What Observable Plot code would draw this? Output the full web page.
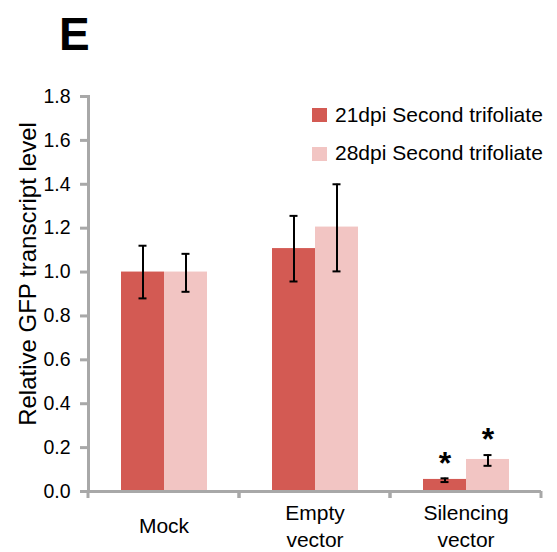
<!DOCTYPE html>
<html>
<head>
<meta charset="utf-8">
<script src="https://cdn.jsdelivr.net/npm/d3@7"></script>
<script src="https://cdn.jsdelivr.net/npm/@observablehq/plot@0.6"></script>
<style>
  html, body { margin: 0; padding: 0; background: #fff; }
  body { font-family: "Liberation Sans", Arial, Helvetica, sans-serif; color: #000; }
  #wrap { position: relative; width: 557px; height: 552px; overflow: hidden; }
  #chart { position: absolute; left: 0; top: 0; }
  #title { position: absolute; left: 59px; top: 11px; font-size: 46px; line-height: 46px; font-weight: bold; }
  .lg-sw { position: absolute; width: 15px; height: 14px; }
  .lg-tx { position: absolute; font-size: 21px; line-height: 21px; white-space: nowrap; }
</style>
</head>
<body>
<div id="wrap">
  <div id="chart"></div>
  <div id="title">E</div>
  <div id="legend"></div>
</div>
<script>
// ---- data ----
const groups = ["Mock", "Empty vector", "Silencing vector"];
const groupLabels = ["Mock", "Empty\nvector", "Silencing\nvector"];
const series = ["21dpi Second trifoliate", "28dpi Second trifoliate"];
const seriesColors = ["#d35a53", "#f2c5c3"];

const value21 = [1.00, 1.107, 0.055];
const low21   = [0.88, 0.957, 0.043];
const high21  = [1.12, 1.256, 0.060];
const star21  = [false, false, true];

const value28 = [1.00, 1.205, 0.146];
const low28   = [0.91, 1.003, 0.117];
const high28  = [1.083, 1.400, 0.166];
const star28  = [false, false, true];

const yTicks = [0, 0.2, 0.4, 0.6, 0.8, 1.0, 1.2, 1.4, 1.6, 1.8];
const yLabel = "Relative GFP transcript level";

// ---- table built from the arrays ----
const rows = [];
groups.forEach((g, i) => {
  rows.push({group: g, series: series[0], value: value21[i], lo: low21[i], hi: high21[i], star: star21[i]});
  rows.push({group: g, series: series[1], value: value28[i], lo: low28[i], hi: high28[i], star: star28[i]});
});
const labelOf = new Map(groups.map((g, i) => [g, groupLabels[i]]));

const gray = "#a8a8a8";
const font = "'Liberation Sans', Arial, Helvetica, sans-serif";

// tick marks at the band boundaries of the x axis
function edgeTicks(index, scales, values, dimensions) {
  const {marginLeft, marginRight, width} = dimensions;
  const y0 = scales.y(0);
  const g = d3.create("svg:g");
  for (const x of [marginLeft, width - marginRight]) {
    g.append("line")
      .attr("x1", x).attr("x2", x)
      .attr("y1", y0).attr("y2", y0 + 7)
      .attr("stroke", gray).attr("stroke-width", 3);
  }
  return g.node();
}

const chart = Plot.plot({
  width: 557,
  height: 552,
  marginTop: 96,
  marginBottom: 61,
  marginLeft: 87,
  marginRight: 15,
  style: {fontFamily: font, fontSize: "19px", color: "#000", background: "#fff", overflow: "visible"},
  fx: {domain: groups, padding: 0, label: null, axis: null},
  x: {domain: series, paddingInner: 0, paddingOuter: 0.72, axis: null},
  y: {domain: [0, 1.8], axis: null},
  color: {domain: series, range: seriesColors},
  marks: [
    Plot.barY(rows, {fx: "group", x: "series", y: "value", fill: "series"}),
    Plot.ruleX(rows, {fx: "group", x: "series", y1: "lo", y2: "hi", stroke: "#000", strokeWidth: 2}),
    Plot.tickY(rows, {fx: "group", x: "series", y: "lo", stroke: "#000", strokeWidth: 2, insetLeft: 17.5, insetRight: 17.5}),
    Plot.tickY(rows, {fx: "group", x: "series", y: "hi", stroke: "#000", strokeWidth: 2, insetLeft: 17.5, insetRight: 17.5}),
    Plot.text(rows.filter(d => d.star), {fx: "group", x: "series", y: "hi", text: () => "*", fontSize: 32, fontWeight: "bold", lineAnchor: "middle", dy: -15, fill: "#000"}),
    Plot.ruleY([0], {stroke: gray, strokeWidth: 3}),
    Plot.frame({anchor: "left", facetAnchor: "left", stroke: gray, strokeWidth: 3}),
    edgeTicks,
    Plot.axisY({ticks: yTicks, tickFormat: d => d.toFixed(1), tickSize: 8, tickPadding: 10, stroke: gray, strokeWidth: 3, fill: "#000", fontSize: 19.5, label: null}),
    Plot.text([yLabel], {text: d => d, frameAnchor: "left", facetAnchor: "left", rotate: -90, textAnchor: "middle", dx: -60, dy: -20, fontSize: 24, lineAnchor: "middle", fill: "#000"}),
    Plot.axisFx({anchor: "bottom", tickSize: 0, tickPadding: 33, lineAnchor: "middle", lineHeight: 1.3, fontSize: 21, fill: "#000", tickFormat: g => labelOf.get(g), label: null})
  ]
});
document.getElementById("chart").appendChild(chart);

// ---- legend ----
const legend = document.getElementById("legend");
const legendTop = [108, 147];
const legendTextTop = [104, 142];
series.forEach((s, i) => {
  const sw = document.createElement("div");
  sw.className = "lg-sw";
  sw.style.left = "312px";
  sw.style.top = legendTop[i] + "px";
  sw.style.background = seriesColors[i];
  legend.appendChild(sw);
  const tx = document.createElement("div");
  tx.className = "lg-tx";
  tx.style.left = "335px";
  tx.style.top = legendTextTop[i] + "px";
  tx.textContent = s;
  legend.appendChild(tx);
});
</script>
</body>
</html>
